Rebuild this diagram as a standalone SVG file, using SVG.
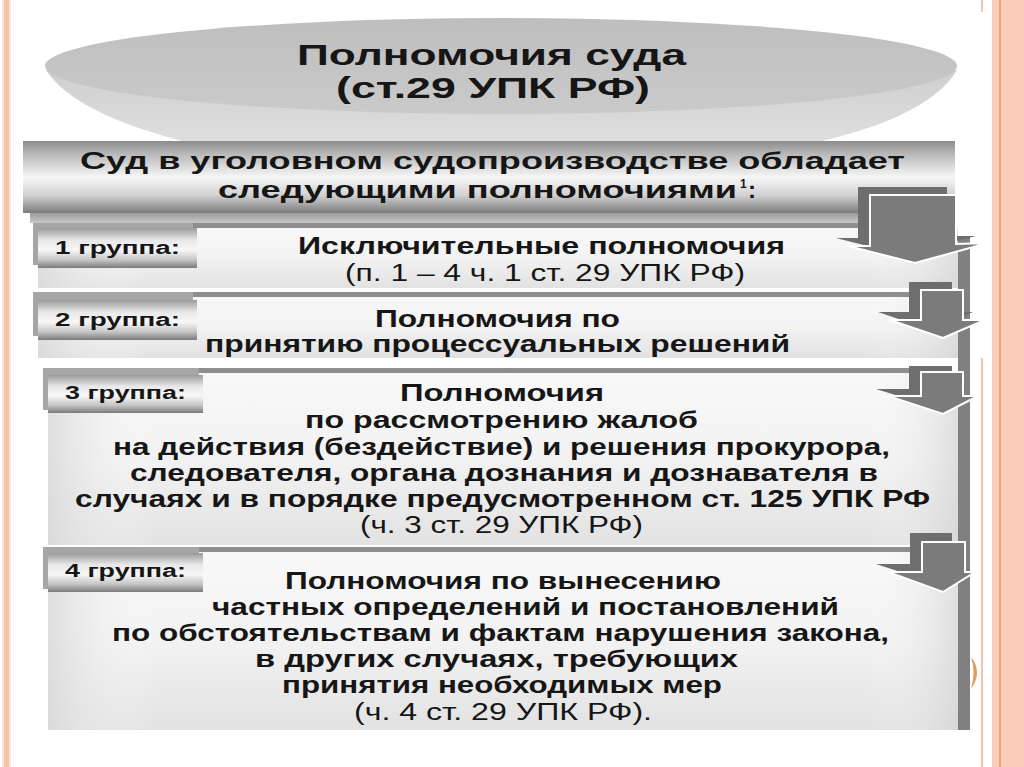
<svg xmlns="http://www.w3.org/2000/svg" width="1024" height="767" viewBox="0 0 1024 767">
<defs>
<linearGradient id="metal" x1="0" y1="0" x2="0" y2="1">
<stop offset="0" stop-color="#8c8c8c"/>
<stop offset="0.18" stop-color="#b8b8b8"/>
<stop offset="0.5" stop-color="#f6f6f6"/>
<stop offset="0.75" stop-color="#d2d2d2"/>
<stop offset="1" stop-color="#7c7c7c"/>
</linearGradient>
<linearGradient id="tabg" x1="0" y1="0" x2="0" y2="1">
<stop offset="0" stop-color="#9a9a9a"/>
<stop offset="0.3" stop-color="#e8e8e8"/>
<stop offset="0.55" stop-color="#f7f7f7"/>
<stop offset="0.8" stop-color="#c4c4c4"/>
<stop offset="1" stop-color="#7a7a7a"/>
</linearGradient>
<linearGradient id="bodyg" x1="0" y1="0" x2="0" y2="1">
<stop offset="0" stop-color="#f8f8f8"/>
<stop offset="0.5" stop-color="#f2f2f2"/>
<stop offset="1" stop-color="#e2e2e2"/>
</linearGradient>
<linearGradient id="bodyh" x1="0" y1="0" x2="1" y2="0">
<stop offset="0" stop-color="#d8d8d8" stop-opacity="0.8"/>
<stop offset="0.12" stop-color="#ffffff" stop-opacity="0"/>
<stop offset="0.9" stop-color="#ffffff" stop-opacity="0"/>
<stop offset="1" stop-color="#d0d0d0" stop-opacity="0.6"/>
</linearGradient>
<linearGradient id="ellg" x1="0" y1="0" x2="0" y2="1">
<stop offset="0" stop-color="#bebebe"/>
<stop offset="1" stop-color="#cacaca"/>
</linearGradient>
<linearGradient id="coneg" x1="0" y1="0" x2="0" y2="1">
<stop offset="0" stop-color="#cfcfcf"/>
<stop offset="1" stop-color="#dedede"/>
</linearGradient>
<linearGradient id="stripg" x1="0" y1="0" x2="0" y2="1">
<stop offset="0" stop-color="#9a9a9a"/>
<stop offset="1" stop-color="#c8c8c8"/>
</linearGradient>
</defs>
<style>
.b{font-family:"Liberation Sans",Arial,sans-serif;font-weight:bold;fill:#161616;}
.r{font-family:"Liberation Sans",Arial,sans-serif;font-weight:normal;fill:#161616;}
.t1{font-size:30px;}
.t2{font-size:24px;}
.t3{font-size:23px;}
.tab{font-size:18px;}
.tabbox{fill:url(#tabg);}
.tabsh{fill:#a6a6a6;}
.topline{fill:#8e8e8e;}
.body{fill:url(#bodyg);}
.bodyov{fill:url(#bodyh);}
.arF{fill:#7b7b7b;stroke:#ffffff;stroke-width:2;}
.arB{fill:#6e6e6e;}
</style>
<rect width="1024" height="767" fill="#ffffff"/>
<!-- slide borders -->
<rect x="2" y="0" width="9" height="767" fill="#fbe3d8"/>
<rect x="4" y="0" width="5" height="767" fill="#f4c3ab"/>
<rect x="992" y="0" width="32" height="767" fill="#fbcdb8"/>
<rect x="999" y="0" width="2" height="767" fill="#e9a584"/>
<rect x="981" y="358" width="2" height="409" fill="#f3c4ae"/>
<rect x="981" y="0" width="2" height="12" fill="#f3c4ae"/>
<path d="M971,657 Q983,672 971,689 Q976,672 971,657 Z" fill="#e49a5e"/>

<!-- title disk -->
<g id="title">
<path d="M46,70 C70,108 140,130 182,141 L822,141 C870,130 935,108 957,70 Z" fill="url(#coneg)"/>
<ellipse cx="501" cy="66" rx="456" ry="48" fill="url(#ellg)"/>
<text class="b t1" x="297" y="65" textLength="389" lengthAdjust="spacingAndGlyphs">Полномочия суда</text>
<text class="b t1" x="336" y="98" textLength="314" lengthAdjust="spacingAndGlyphs">(ст.29 УПК РФ)</text>
</g>

<!-- header -->
<g id="header">
<rect x="23" y="141" width="932" height="72" fill="url(#metal)"/>
<rect x="30" y="213" width="845" height="10" fill="url(#stripg)"/>
<text class="b t2" x="80" y="169" textLength="825" lengthAdjust="spacingAndGlyphs">Суд в уголовном судопроизводстве обладает</text>
<text class="b t2" x="218" y="198" textLength="519" lengthAdjust="spacingAndGlyphs">следующими полномочиями</text>
<text class="b" font-size="12" x="740" y="188">1</text>
<text class="b t2" x="748" y="198">:</text>
</g>

<!-- group 1 -->
<g id="group1">
<rect class="topline" x="33" y="223" width="850" height="5"/>
<rect class="body" x="38" y="228" width="920" height="60"/>
<rect class="bodyov" x="38" y="228" width="920" height="60"/>
<rect class="tabsh" x="33" y="223" width="160" height="42"/>
<rect class="tabbox" x="38" y="228" width="159" height="40"/>
<text class="b tab" x="55" y="254" textLength="125" lengthAdjust="spacingAndGlyphs">1 группа:</text>
<text class="b t2" x="298" y="254" textLength="487" lengthAdjust="spacingAndGlyphs">Исключительные полномочия</text>
<text class="r t3" x="345" y="281" textLength="400" lengthAdjust="spacingAndGlyphs">(п. 1 – 4 ч. 1 ст. 29 УПК РФ)</text>
</g>

<!-- group 2 -->
<g id="group2">
<rect class="topline" x="33" y="292" width="880" height="5"/>
<rect class="body" x="38" y="297" width="920" height="61"/>
<rect class="bodyov" x="38" y="297" width="920" height="61"/>
<rect class="tabsh" x="33" y="292" width="160" height="44"/>
<rect class="tabbox" x="38" y="300" width="159" height="40"/>
<text class="b tab" x="55" y="326" textLength="125" lengthAdjust="spacingAndGlyphs">2 группа:</text>
<text class="b t2" x="375" y="327" textLength="245" lengthAdjust="spacingAndGlyphs">Полномочия по</text>
<text class="b t2" x="205" y="352" textLength="585" lengthAdjust="spacingAndGlyphs">принятию процессуальных решений</text>
</g>

<!-- group 3 -->
<g id="group3">
<rect class="topline" x="43" y="368" width="870" height="5"/>
<rect class="body" x="48" y="373" width="910" height="172"/>
<rect class="bodyov" x="48" y="373" width="910" height="172"/>
<rect class="tabsh" x="43" y="368" width="156" height="42"/>
<rect class="tabbox" x="48" y="375" width="155" height="38"/>
<text class="b tab" x="65" y="399" textLength="121" lengthAdjust="spacingAndGlyphs">3 группа:</text>
<text class="b t2" x="400" y="401" textLength="204" lengthAdjust="spacingAndGlyphs">Полномочия</text>
<text class="b t2" x="305" y="428" textLength="393" lengthAdjust="spacingAndGlyphs">по рассмотрению жалоб</text>
<text class="b t2" x="113" y="455" textLength="777" lengthAdjust="spacingAndGlyphs">на действия (бездействие) и решения прокурора,</text>
<text class="b t2" x="130" y="481" textLength="748" lengthAdjust="spacingAndGlyphs">следователя, органа дознания и дознавателя в</text>
<text class="b t2" x="75" y="507" textLength="855" lengthAdjust="spacingAndGlyphs">случаях и в порядке предусмотренном ст. 125 УПК РФ</text>
<text class="r t3" x="360" y="533" textLength="283" lengthAdjust="spacingAndGlyphs">(ч. 3 ст. 29 УПК РФ)</text>
</g>

<!-- group 4 -->
<g id="group4">
<rect class="topline" x="43" y="547" width="870" height="5"/>
<rect class="body" x="48" y="552" width="910" height="178"/>
<rect class="bodyov" x="48" y="552" width="910" height="178"/>
<rect class="tabsh" x="43" y="547" width="156" height="42"/>
<rect class="tabbox" x="48" y="553" width="155" height="39"/>
<text class="b tab" x="65" y="577" textLength="121" lengthAdjust="spacingAndGlyphs">4 группа:</text>
<text class="b t2" x="285" y="589" textLength="436" lengthAdjust="spacingAndGlyphs">Полномочия по вынесению</text>
<text class="b t2" x="212" y="615" textLength="627" lengthAdjust="spacingAndGlyphs">частных определений и постановлений</text>
<text class="b t2" x="112" y="641" textLength="777" lengthAdjust="spacingAndGlyphs">по обстоятельствам и фактам нарушения закона,</text>
<text class="b t2" x="255" y="667" textLength="483" lengthAdjust="spacingAndGlyphs">в других случаях, требующих</text>
<text class="b t2" x="282" y="693" textLength="440" lengthAdjust="spacingAndGlyphs">принятия необходимых мер</text>
<text class="r t3" x="354" y="720" textLength="298" lengthAdjust="spacingAndGlyphs">(ч. 4 ст. 29 УПК РФ).</text>
</g>

<!-- right edge bar -->
<rect x="958" y="237" width="12" height="493" fill="#808080"/>

<!-- connectors: arrows -->
<g id="connectors">
<polygon class="arB" points="858,187 947,187 947,236 976,236 903,255 836,238 858,238"/>
<polygon class="arF" points="870,195 956,195 956,244 988,243 915,263 848,246 870,246"/>
<polygon class="arB" points="909,282 952,282 952,312 973,312 931,330 878,312 909,312"/>
<polygon class="arF" points="921,290 963,290 963,320 985,320 943,338 890,320 921,320"/>
<polygon class="arB" points="909,366 952,366 952,389 966,389 931,406 876,389 909,389"/>
<polygon class="arF" points="921,372 963,372 963,396 978,396 943,414 888,396 921,396"/>
<polygon class="arB" points="910,533 952,533 952,564 963,564 931,582 876,564 910,564"/>
<polygon class="arF" points="922,542 965,542 965,572 975,572 943,592 888,572 922,572"/>
</g>
</svg>
